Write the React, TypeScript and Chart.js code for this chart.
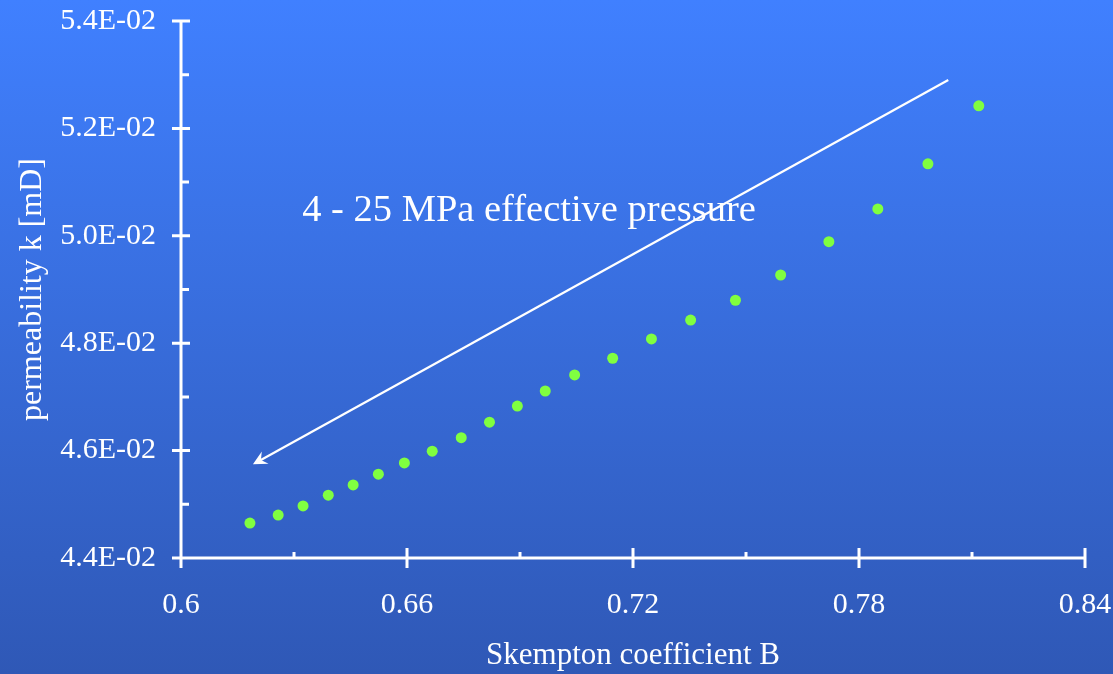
import React, { useEffect, useRef } from "react";
import { Chart, registerables } from "chart.js";

Chart.register(...registerables);

// Skempton coefficient B (x) vs permeability k [mD] (y)
const skemptonB = [
  0.6183, 0.6258, 0.6324, 0.6391, 0.6457, 0.6524, 0.6593, 0.6667, 0.6744, 0.6819, 0.6893,
  0.6967, 0.7045, 0.7146, 0.7249, 0.7353, 0.7472, 0.7592, 0.772, 0.785, 0.7983, 0.8118,
];
const permeabilityK = [
  0.04465, 0.0448, 0.04497, 0.04517, 0.04536, 0.04556, 0.04577, 0.04599, 0.04624, 0.04653, 0.04683,
  0.04711, 0.04741, 0.04772, 0.04808, 0.04843, 0.0488, 0.04927, 0.04989, 0.0505, 0.05134, 0.05242,
];

const xTickValues = [0.6, 0.66, 0.72, 0.78, 0.84];
const xMinorTicks = [0.63, 0.69, 0.75, 0.81];
const yTickValues = [0.044, 0.046, 0.048, 0.05, 0.052, 0.054];
const yMinorTicks = [0.045, 0.047, 0.049, 0.051, 0.053];

// annotation (data coordinates)
const arrowFrom = [0.8037, 0.0529];
const arrowTo = [0.6191, 0.045745];
const annotationText = "4 - 25 MPa effective pressure";
const annotationPos = [0.6924, 0.05046];

const FONT = "'Liberation Serif', 'Times New Roman', Times, serif";

const decorPlugin = {
  id: "decor",
  beforeDraw(chart: any) {
    const { ctx, width, height } = chart;
    ctx.save();
    const g = ctx.createLinearGradient(0, 0, 0, height);
    g.addColorStop(0, "rgb(64,128,255)");
    g.addColorStop(1, "rgb(47,88,182)");
    ctx.fillStyle = g;
    ctx.fillRect(0, 0, width, height);
    ctx.restore();
  },
  beforeDatasetsDraw(chart: any) {
    const { ctx, chartArea } = chart;
    const xs = chart.scales.x;
    const ys = chart.scales.y;
    const ax = chartArea.left;
    const ay = chartArea.bottom;
    ctx.save();
    ctx.strokeStyle = "#ffffff";
    ctx.lineWidth = 3;
    ctx.lineCap = "butt";
    ctx.beginPath();
    // axes
    ctx.moveTo(ax, chartArea.top);
    ctx.lineTo(ax, ay);
    ctx.moveTo(ax, ay);
    ctx.lineTo(chartArea.right, ay);
    // y major ticks (cross)
    yTickValues.forEach((v) => {
      const p = ys.getPixelForValue(v);
      ctx.moveTo(ax - 9, p);
      ctx.lineTo(ax + 9, p);
    });
    // y minor (inside)
    yMinorTicks.forEach((v) => {
      const p = ys.getPixelForValue(v);
      ctx.moveTo(ax, p);
      ctx.lineTo(ax + 8, p);
    });
    // x major ticks (cross)
    xTickValues.forEach((v) => {
      const p = xs.getPixelForValue(v);
      ctx.moveTo(p, ay - 10);
      ctx.lineTo(p, ay + 10);
    });
    xMinorTicks.forEach((v) => {
      const p = xs.getPixelForValue(v);
      ctx.moveTo(p, ay);
      ctx.lineTo(p, ay - 6);
    });
    ctx.stroke();
    ctx.restore();
  },
  afterDraw(chart: any) {
    const { ctx } = chart;
    const xs = chart.scales.x;
    const ys = chart.scales.y;
    const x1 = xs.getPixelForValue(arrowFrom[0]);
    const y1 = ys.getPixelForValue(arrowFrom[1]);
    const x2 = xs.getPixelForValue(arrowTo[0]);
    const y2 = ys.getPixelForValue(arrowTo[1]);
    const ang = Math.atan2(y2 - y1, x2 - x1);
    ctx.save();
    ctx.strokeStyle = "#ffffff";
    ctx.fillStyle = "#ffffff";
    ctx.lineWidth = 2.2;
    ctx.beginPath();
    ctx.moveTo(x1, y1);
    ctx.lineTo(x2 - Math.cos(ang) * 8, y2 - Math.sin(ang) * 8);
    ctx.stroke();
    // stealth arrow head
    const L = 14;
    const W = 7;
    const bx = x2 - Math.cos(ang) * L;
    const by = y2 - Math.sin(ang) * L;
    const nx = -Math.sin(ang);
    const ny = Math.cos(ang);
    const notchX = x2 - Math.cos(ang) * (L * 0.65);
    const notchY = y2 - Math.sin(ang) * (L * 0.65);
    ctx.beginPath();
    ctx.moveTo(x2, y2);
    ctx.lineTo(bx + nx * W, by + ny * W);
    ctx.lineTo(notchX, notchY);
    ctx.lineTo(bx - nx * W, by - ny * W);
    ctx.closePath();
    ctx.fill();
    // text
    ctx.font = `38.5px ${FONT}`;
    ctx.textAlign = "center";
    ctx.textBaseline = "middle";
    ctx.fillText(
      annotationText,
      xs.getPixelForValue(annotationPos[0]),
      ys.getPixelForValue(annotationPos[1])
    );
    ctx.restore();
  },
};

export default function App() {
  const canvasRef = useRef<HTMLCanvasElement | null>(null);

  useEffect(() => {
    document.body.style.margin = "0";
    const canvas = canvasRef.current;
    if (!canvas) return;
    const points = skemptonB.map((x, i) => ({ x, y: permeabilityK[i] }));
    const chart = new Chart(canvas, {
      type: "scatter",
      data: {
        datasets: [
          {
            label: "k vs B",
            data: points,
            backgroundColor: "rgb(128,255,64)",
            borderColor: "rgb(128,255,64)",
            borderWidth: 0,
            pointRadius: 5.5,
          },
        ],
      },
      options: {
        responsive: false,
        animation: false,
        events: [],
        layout: { padding: { left: 0, right: 28, top: 21, bottom: 0 } },
        plugins: {
          legend: { display: false },
          tooltip: { enabled: false },
        },
        scales: {
          x: {
            type: "linear",
            min: 0.6,
            max: 0.84,
            border: { display: false },
            grid: { display: false, drawTicks: false },
            afterBuildTicks: (s: any) => {
              s.ticks = xTickValues.map((v) => ({ value: v }));
            },
            afterFit: (s: any) => {
              s.height = 116;
              s.paddingLeft = 0;
              s.paddingRight = 0;
              s.paddingTop = 0;
              s.paddingBottom = 0;
            },
            ticks: {
              color: "#ffffff",
              font: { family: FONT, size: 30 },
              padding: 29,
              maxRotation: 0,
              autoSkip: false,
              callback: (v: any) => String(parseFloat(Number(v).toFixed(2))),
            },
            title: {
              display: true,
              text: "Skempton coefficient B",
              color: "#ffffff",
              font: { family: FONT, size: 31 },
              padding: { top: 0, bottom: 0 },
            },
          },
          y: {
            type: "linear",
            min: 0.044,
            max: 0.054,
            border: { display: false },
            grid: { display: false, drawTicks: false },
            afterBuildTicks: (s: any) => {
              s.ticks = yTickValues.map((v) => ({ value: v }));
            },
            afterFit: (s: any) => {
              s.width = 181;
              s.paddingLeft = 0;
              s.paddingRight = 0;
              s.paddingTop = 0;
              s.paddingBottom = 0;
            },
            ticks: {
              color: "#ffffff",
              font: { family: FONT, size: 30 },
              padding: 25,
              autoSkip: false,
              callback: (v: any) => (Number(v) * 100).toFixed(1) + "E-02",
            },
            title: {
              display: true,
              text: "permeability k [mD]",
              color: "#ffffff",
              font: { family: FONT, size: 32 },
              padding: { top: 13, bottom: 0 },
            },
          },
        },
      },
      plugins: [decorPlugin],
    } as any);
    return () => chart.destroy();
  }, []);

  return (
    <div style={{ width: 1113, height: 674 }}>
      <canvas ref={canvasRef} width={1113} height={674} style={{ display: "block" }} />
    </div>
  );
}
